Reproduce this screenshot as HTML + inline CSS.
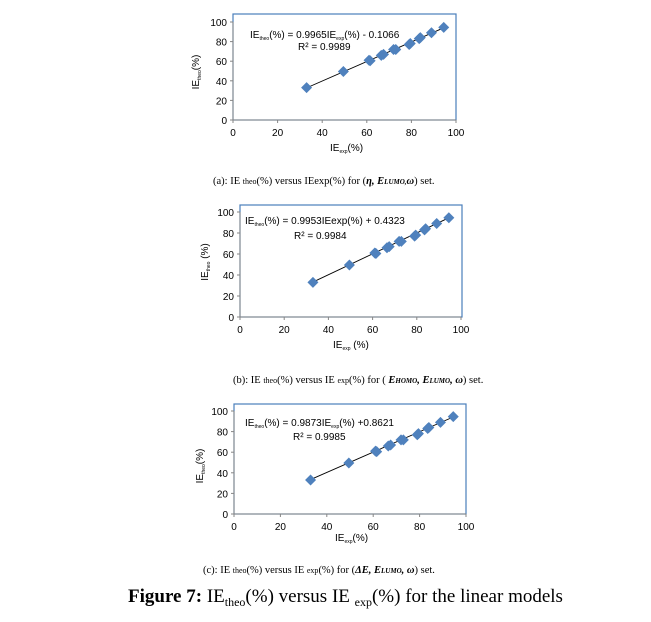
<!DOCTYPE html>
<html><head><meta charset="utf-8"><style>
html,body{margin:0;padding:0;background:#fff;width:651px;height:622px;overflow:hidden}
svg{display:block}
.t{font-family:"Liberation Sans",sans-serif;font-size:10px;fill:#000}
.s{font-family:"Liberation Serif",serif;fill:#000}
</style></head><body>
<svg id="s" width="651" height="622" viewBox="0 0 651 622" xmlns="http://www.w3.org/2000/svg">
<defs><path id="d" d="M0,-5.5 L5.5,0 L0,5.5 L-5.5,0Z" fill="#4f81bd"/></defs>
<g id="charts"></g>
<!-- chart a labels -->
<text class="t" x="250" y="38">IE<tspan font-size="5" dy="2">theo</tspan><tspan dy="-2">(%) = 0.9965IE</tspan><tspan font-size="5" dy="2">exp</tspan><tspan dy="-2">(%) - 0.1066</tspan></text>
<text class="t" x="298" y="50">R² = 0.9989</text>
<text class="t" x="330" y="151">IE<tspan font-size="5" dy="2">exp</tspan><tspan dy="-2">(%)</tspan></text>
<text class="t" transform="translate(199,72) rotate(-90)" text-anchor="middle">IE<tspan font-size="5" dy="2">theo</tspan><tspan dy="-2">(%)</tspan></text>
<text class="s" x="213" y="184" font-size="10.5">(a): IE <tspan font-size="8">theo</tspan>(%) versus IEexp(%)  for (<tspan font-weight="bold" font-style="italic">η, E<tspan font-size="7">LUMO,</tspan>ω</tspan>) set.</text>
<!-- chart b -->
<text class="t" x="245" y="224">IE<tspan font-size="5" dy="2">theo</tspan><tspan dy="-2">(%)  = 0.9953IEexp(%) + 0.4323</tspan></text>
<text class="t" x="294" y="239">R² = 0.9984</text>
<text class="t" x="333" y="348">IE<tspan font-size="5" dy="2">exp</tspan><tspan dy="-2"> (%)</tspan></text>
<text class="t" transform="translate(208,262) rotate(-90)" text-anchor="middle">IE<tspan font-size="5" dy="2">theo</tspan><tspan dy="-2"> (%)</tspan></text>
<text class="s" x="233" y="383" font-size="10.5">(b): IE <tspan font-size="8">theo</tspan>(%) versus IE <tspan font-size="8">exp</tspan>(%)  for ( <tspan font-weight="bold" font-style="italic">E<tspan font-size="7">HOMO</tspan>, E<tspan font-size="7">LUMO</tspan>, ω</tspan>) set.</text>
<!-- chart c -->
<text class="t" x="245" y="426">IE<tspan font-size="5" dy="2">theo</tspan><tspan dy="-2">(%)  = 0.9873IE</tspan><tspan font-size="5" dy="2">exp</tspan><tspan dy="-2">(%) +0.8621</tspan></text>
<text class="t" x="293" y="440">R² = 0.9985</text>
<text class="t" x="335" y="541">IE<tspan font-size="5" dy="2">exp</tspan><tspan dy="-2">(%)</tspan></text>
<text class="t" transform="translate(203,466) rotate(-90)" text-anchor="middle">IE<tspan font-size="5" dy="2">theo</tspan><tspan dy="-2">(%)</tspan></text>
<text class="s" x="203" y="573" font-size="10.5">(c): IE <tspan font-size="8">theo</tspan>(%) versus IE <tspan font-size="8">exp</tspan>(%)  for (<tspan font-weight="bold" font-style="italic">ΔE, E<tspan font-size="7">LUMO</tspan>, ω</tspan>) set.</text>
<text class="s" x="128" y="602" font-size="19"><tspan font-weight="bold">Figure 7:</tspan> IE<tspan font-size="12" dy="4">theo</tspan><tspan dy="-4">(%) versus IE </tspan><tspan font-size="12" dy="4">exp</tspan><tspan dy="-4">(%)  for  the linear models</tspan></text>
</svg>
<script>
var g=document.getElementById('charts'),NS='http://www.w3.org/2000/svg';
function el(n,a,t){var e=document.createElementNS(NS,n);for(var k in a)e.setAttribute(k,a[k]);if(t!=null)e.textContent=t;g.appendChild(e);return e;}
var pts=[[33,33],[49.5,49.5],[61,61],[61.5,60.5],[66.5,66],[67.5,67],[72,72],[73,72],[79,77],[79.5,78],[83.5,83],[84,84],[89,89],[94.5,94.5]];
function chart(x0,x1,y0,y1,bx0,by0,bx1,by1,a,b,fs){
 var X=function(v){return x0+(x1-x0)*v/100},Y=function(v){return y0-(y0-y1)*v/100};
 el('rect',{x:bx0,y:by0,width:bx1-bx0,height:by1-by0,fill:'none',stroke:'#4a7ebb','stroke-width':1.2});
 el('line',{x1:x0,y1:y1,x2:x0,y2:y0,stroke:'#868686'});
 el('line',{x1:x0,y1:y0,x2:x1,y2:y0,stroke:'#868686'});
 for(var v=0;v<=100;v+=20){
  el('line',{x1:x0-3,y1:Y(v),x2:x0,y2:Y(v),stroke:'#868686'});
  el('line',{x1:X(v),y1:y0,x2:X(v),y2:y0+3,stroke:'#868686'});
  el('text',{x:x0-6,y:Y(v)+4,'text-anchor':'end','class':'t','font-size':fs},v);
  el('text',{x:X(v),y:y0+16,'text-anchor':'middle','class':'t','font-size':fs},v);
 }
 el('line',{x1:X(33),y1:Y(a*33+b),x2:X(94.5),y2:Y(a*94.5+b),stroke:'#000','stroke-width':0.9});
 pts.forEach(function(p){el('use',{href:'#d',x:X(p[0]),y:Y(p[1])});});
}
chart(233,456,120,22,233,14,456,120,0.9965,-0.1066,10.5);
chart(240,461,317,212,240,205,462,317,0.9953,0.4323,10.5);
chart(234,466,514,411,234,404,466,514,0.9873,0.8621,10.5);
</script>
</body></html>
